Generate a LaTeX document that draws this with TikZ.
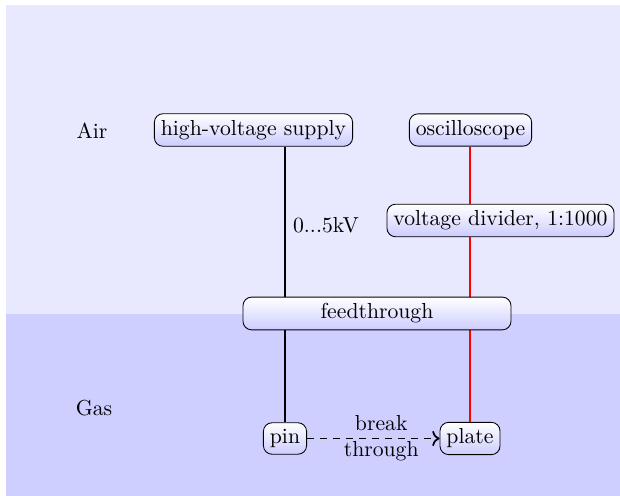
\documentclass[tikz,border=0pt]{standalone}
\usetikzlibrary{arrows.meta}
\begin{document}
\begin{tikzpicture}[x=0.4608pt,y=-0.4608pt,
  box/.style={draw=black,rounded corners=4pt,top color=white,bottom color=blue!20,inner sep=3pt},
  hvline/.style={draw=black,thick},
  sigline/.style={draw=red,thick}]
\useasboundingbox (0,0) rectangle (620,496);
% media regions
\fill[blue!9] (6,5) rectangle (620,314);
\fill[blue!19] (6,314) rectangle (620,496);
\node (air) at (92,131) {Air};
\node (gas) at (94,408) {Gas};
% equipment
\node[box] (hv) at (253.5,130) {high-voltage supply};
\node[box] (osc) at (470.5,130) {oscilloscope};
\node[box] (div) at (500.5,220.5) {voltage divider, 1:1000};
\node[box] (pin) at (285,438.5) {pin};
\node[box] (plate) at (470,438.5) {plate};
% wiring (behind the feedthrough)
\draw[hvline] (hv.south -| pin.north) -- (pin.north)
  node[pos=0.285,right] {0...5kV};
\draw[sigline] (osc.south -| plate.north) -- (div.north -| plate.north);
\draw[sigline] (div.south -| plate.north) -- (plate.north);
\node[box,minimum width=123.5pt] (ft) at (377,313.5) {feedthrough};
\draw[thick,dashed,-{To}] (pin) -- (plate)
  node[pos=0.56,align=center,inner sep=0pt] {break\\through};
\end{tikzpicture}
\end{document}
